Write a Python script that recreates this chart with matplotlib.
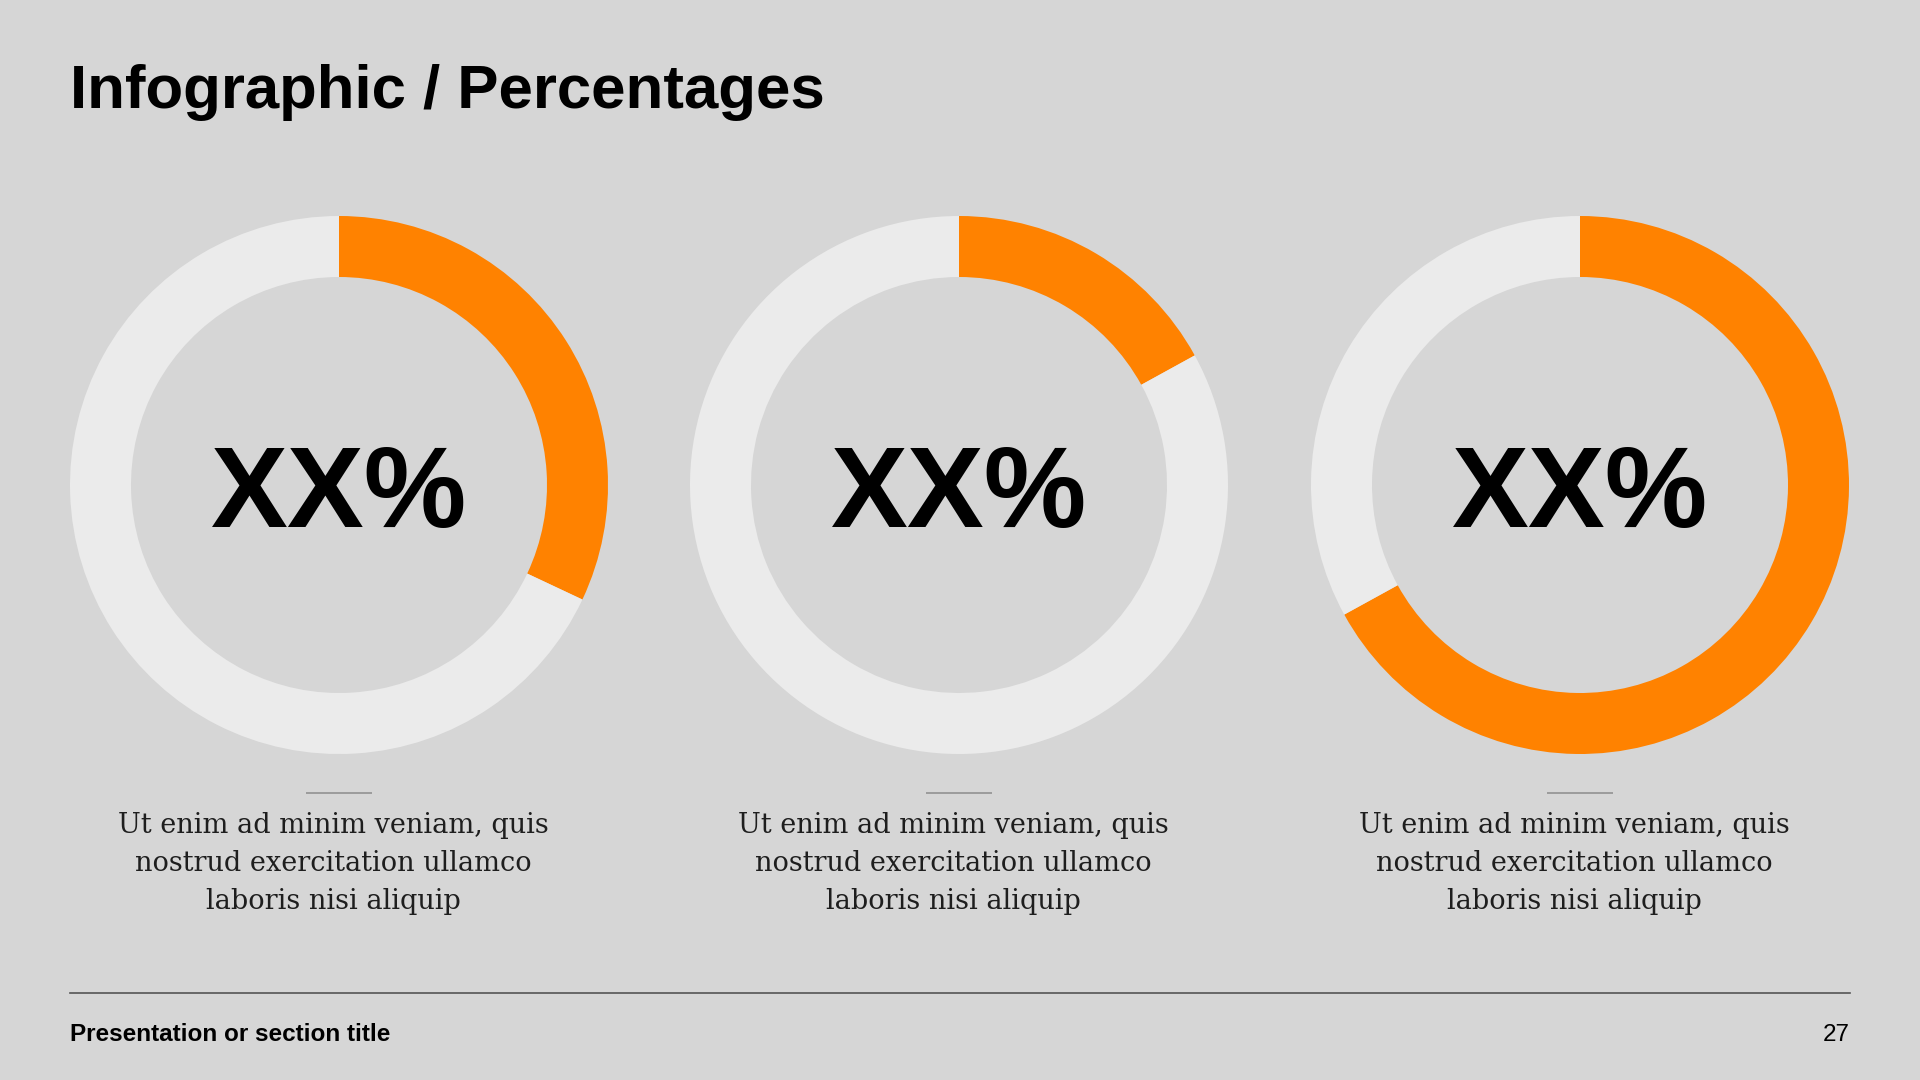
import matplotlib
matplotlib.use("Agg")
import matplotlib.pyplot as plt

# canvas in pixels
W, H = 1920, 1080

BG = "#d6d6d6"
RING = "#ebebeb"
ORANGE = "#ff8200"

title = "Infographic / Percentages"
values = [32, 17, 67]
labels = ["XX%", "XX%", "XX%"]
caption_lines = [
    "Ut enim ad minim veniam, quis",
    "nostrud exercitation ullamco",
    "laboris nisi aliquip",
]
footer = "Presentation or section title"
page = "27"

# layout (pixels)
centers_x = [339, 959, 1580]
cy = 485
r_out = 269
ring_w = 61

SANS = ["Liberation Sans", "DejaVu Sans"]
SERIF = ["DejaVu Serif"]


def donut(fig, cx, value):
    ax = fig.add_axes([(cx - r_out) / W, 1 - (cy + r_out) / H, 2 * r_out / W, 2 * r_out / H])
    ax.pie(
        [value, 100 - value],
        colors=[ORANGE, RING],
        startangle=90,
        counterclock=False,
        radius=1,
        wedgeprops=dict(width=ring_w / r_out, edgecolor="none", linewidth=0),
    )
    ax.set_xlim(-1, 1)
    ax.set_ylim(-1, 1)
    ax.set_aspect("equal")
    ax.axis("off")
    return ax


def main():
    fig = plt.figure(figsize=(W / 100, H / 100), dpi=100, facecolor=BG)

    bg = fig.add_axes([0, 0, 1, 1])
    bg.set_xlim(0, W)
    bg.set_ylim(H, 0)
    bg.axis("off")
    bg.set_facecolor(BG)

    bg.text(70, 108, title, ha="left", va="baseline", fontsize=44.5,
            fontweight="bold", family=SANS, color="black")

    for cx, v, lab in zip(centers_x, values, labels):
        donut(fig, cx, v)
        bg.text(cx, 527, lab, ha="center", va="baseline", fontsize=83,
                fontweight="bold", family=SANS, color="black", zorder=5)
        # small separator above the caption
        bg.plot([cx - 33, cx + 33], [793, 793], color="#8c8c8c", lw=1.1,
                solid_capstyle="butt")
        for i, line in enumerate(caption_lines):
            bg.text(cx - 6, 833 + 38 * i, line, ha="center", va="baseline",
                    fontsize=19.5, family=SERIF, color="#1e1e1e")

    # footer
    bg.plot([70, 1850], [993, 993], color="#555555", lw=1.2)
    bg.text(70, 1041, footer, ha="left", va="baseline", fontsize=17.5,
            fontweight="bold", family=SANS, color="black")
    bg.text(1850, 1041, page, ha="right", va="baseline", fontsize=17.5,
            family=SANS, color="black")

    fig.savefig("out.png", dpi=100, facecolor=BG)
    plt.close(fig)


if __name__ == "__main__":
    main()
